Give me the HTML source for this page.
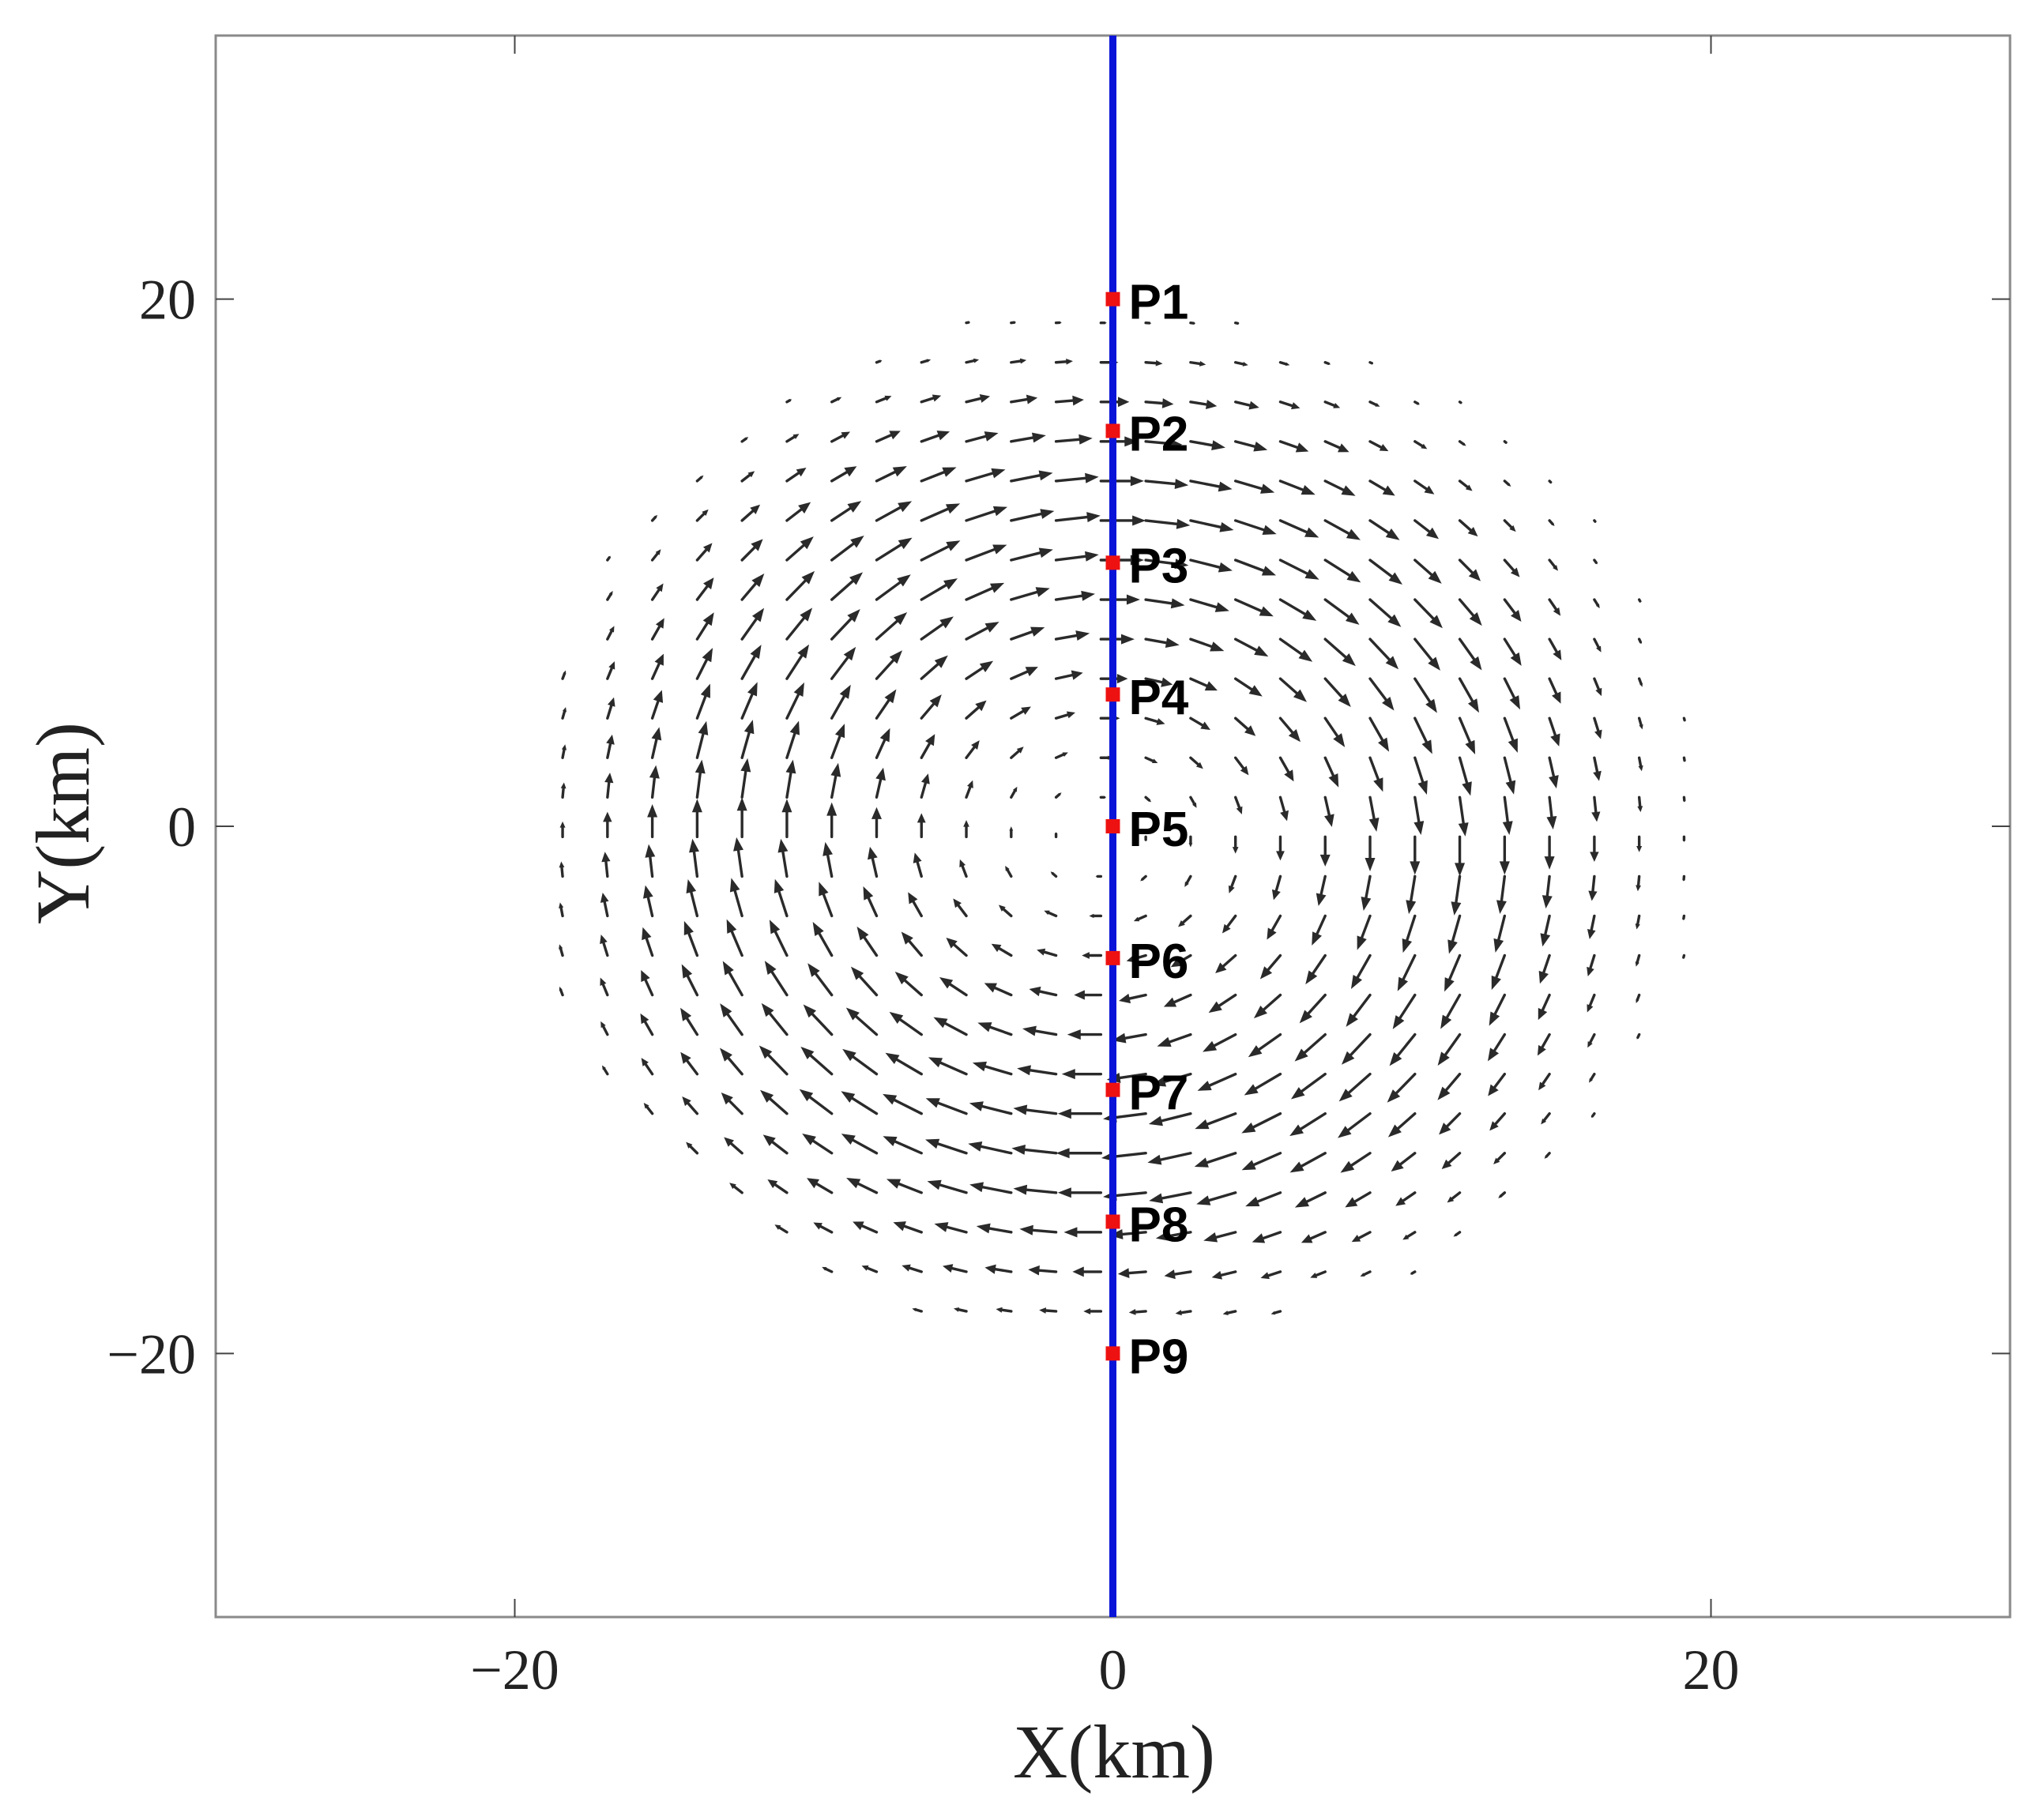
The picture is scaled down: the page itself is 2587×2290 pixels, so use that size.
<!DOCTYPE html>
<html><head><meta charset="utf-8"><style>
html,body{margin:0;padding:0;background:#fff;}
svg{display:block;}
</style></head><body>
<svg id="chart" width="2587" height="2290" viewBox="0 0 2587 2290" xmlns="http://www.w3.org/2000/svg">
<rect x="0" y="0" width="2587" height="2290" fill="#fff"/>
<g id="arrows"></g>
<g id="axes"></g>
<g id="overlay"></g>
</svg>
<script>
// ---- data ----
const xTicks = [-20, 0, 20];
const yTicks = [-20, 0, 20];
const xTickLabels = ["\u221220", "0", "20"];
const yTickLabels = ["\u221220", "0", "20"];
const pointNames = ["P1","P2","P3","P4","P5","P6","P7","P8","P9"];
const pointY = [20, 15, 10, 5, 0, -5, -10, -15, -20];
const pointX = [0, 0, 0, 0, 0, 0, 0, 0, 0];
const gridX = [-18.4,-16.9,-15.4,-13.9,-12.4,-10.9,-9.4,-7.9,-6.4,-4.9,-3.4,-1.9,-0.4,1.1,2.6,4.1,5.6,7.1,8.6,10.1,11.6,13.1,14.6,16.1,17.6,19.1];
const gridY = [-18.4,-16.9,-15.4,-13.9,-12.4,-10.9,-9.4,-7.9,-6.4,-4.9,-3.4,-1.9,-0.4,1.1,2.6,4.1,5.6,7.1,8.6,10.1,11.6,13.1,14.6,16.1,17.6,19.1];
const vortexCenter = [-0.4, -0.4];
const domainCenter = [0.1, 0.1];
const domainRadius = 19.75;
// speed profile (km of arrow length) vs radius (km)
const profileR = [0, 2, 4, 6, 8, 10, 12, 14, 15.5, 17, 18.5, 19.5, 20.5];
const profileSpeed = [0, 0.24, 0.55, 0.9, 1.2, 1.42, 1.5, 1.42, 1.15, 0.85, 0.45, 0.2, 0.06];

// ---- axes ----
const X0 = 273, X1 = 2544, Y0 = 45, Y1 = 2047;
const xMin = -30, xMax = 30, yMin = -30, yMax = 30;
const sx = v => X0 + (v - xMin) / (xMax - xMin) * (X1 - X0);
const sy = v => Y1 - (v - yMin) / (yMax - yMin) * (Y1 - Y0);
const NS = "http://www.w3.org/2000/svg";
function mk(tag, attrs, parent){const e=document.createElementNS(NS,tag);for(const k in attrs)e.setAttribute(k,attrs[k]);parent.appendChild(e);return e;}
function speedAt(r){
  if(r>=profileR[profileR.length-1]) return 0;
  for(let i=0;i<profileR.length-1;i++){
    if(r>=profileR[i]&&r<=profileR[i+1]){const t=(r-profileR[i])/(profileR[i+1]-profileR[i]);return profileSpeed[i]+t*(profileSpeed[i+1]-profileSpeed[i]);}
  }
  return 0;
}
const arrowsG = document.getElementById('arrows');
const kmPx = (sx(1)-sx(0));
const kmPy = (sy(0)-sy(1));
gridX.forEach(gx=>{
  gridY.forEach(gy=>{
    if(Math.hypot(gx-domainCenter[0],gy-domainCenter[1])>domainRadius) return;
    const dx=gx-vortexCenter[0], dy=gy-vortexCenter[1];
    const r=Math.hypot(dx,dy);
    const s=speedAt(r);
    if(s<=0.02||r<0.01) return;
    const ux=dy/r*s, uy=-dx/r*s;
    const x1=sx(gx), y1=sy(gy);
    const x2=x1+ux*kmPx, y2=y1-uy*kmPy;
    const L=Math.hypot(x2-x1,y2-y1);
    const hl=Math.min(17, L*0.4), hw=Math.min(6.5, L*0.18);
    const ex=(x2-x1)/L, ey=(y2-y1)/L;
    const bx=x2-ex*hl, by=y2-ey*hl;
    const g=mk('g',{},arrowsG);
    
    
    mk('line',{x1:x1,y1:y1,x2:bx,y2:by,stroke:'#2a2a2a','stroke-width':3.4,'stroke-linecap':'round'},g);
    mk('polygon',{points:`${x2},${y2} ${bx-ey*hw},${by+ex*hw} ${bx+ey*hw},${by-ex*hw}`,fill:'#2a2a2a'},g);
  });
});

const axesG=document.getElementById('axes');
const frame=mk('rect',{x:X0,y:Y0,width:X1-X0,height:Y1-Y0,fill:'none',stroke:'#8a8a8a','stroke-width':3},axesG);


xTicks.forEach((v,i)=>{
  const x=sx(v);
  mk('line',{x1:x,y1:Y1,x2:x,y2:Y1-23,stroke:'#444','stroke-width':2},axesG);
  mk('line',{x1:x,y1:Y0,x2:x,y2:Y0+23,stroke:'#444','stroke-width':2},axesG);
  const t=mk('text',{x:x,y:2138,'text-anchor':'middle','font-family':'Liberation Serif, serif','font-size':72,fill:'#222'},axesG);
  t.textContent=xTickLabels[i];
  
  
});
yTicks.forEach((v,i)=>{
  const y=sy(v);
  mk('line',{x1:X0,y1:y,x2:X0+23,y2:y,stroke:'#444','stroke-width':2},axesG);
  mk('line',{x1:X1,y1:y,x2:X1-23,y2:y,stroke:'#444','stroke-width':2},axesG);
  const t=mk('text',{x:248,y:y+25,'text-anchor':'end','font-family':'Liberation Serif, serif','font-size':72,fill:'#222'},axesG);
  t.textContent=yTickLabels[i];
  
  
});
const xt=mk('text',{x:1410,y:2250,'text-anchor':'middle','font-family':'Liberation Serif, serif','font-size':96,fill:'#222'},axesG);
xt.textContent='X(km)';


const yt=mk('text',{x:0,y:0,'text-anchor':'middle','font-family':'Liberation Serif, serif','font-size':96,fill:'#222',transform:'translate(112,1042) rotate(-90)'},axesG);
yt.textContent='Y(km)';



// ---- profile line and points ----
const ov=document.getElementById('overlay');
const bl=mk('line',{x1:sx(0),y1:Y0,x2:sx(0),y2:Y1,stroke:'#0a14d8','stroke-width':9},ov);


pointNames.forEach((n,i)=>{
  const x=sx(pointX[i]), y=sy(pointY[i]);
  const r=mk('rect',{x:x-9,y:y-9,width:18,height:18,fill:'#ee1111'},ov);
  
  
  const t=mk('text',{x:x+20,y:y+25,'font-family':'Liberation Sans, sans-serif','font-weight':'bold','font-size':62,fill:'#000'},ov);
  t.textContent=n;
  
  
});
</script>
</body></html>
